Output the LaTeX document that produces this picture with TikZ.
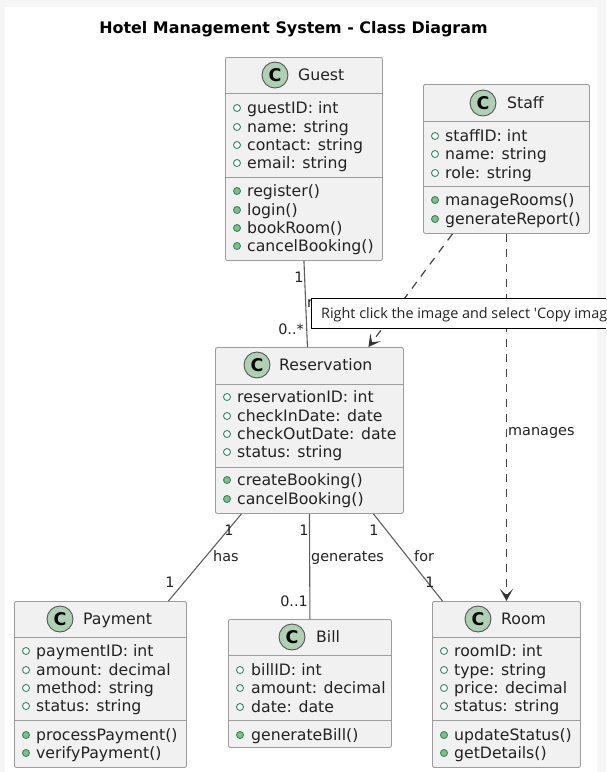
\documentclass[tikz,border=0pt]{standalone}
\usepackage{fontspec}
\setmainfont{DejaVu Sans}
\newfontfamily\tipfont{Open Sans}
\usetikzlibrary{calc}
\usetikzlibrary{arrows.meta}

\tikzset{
  classbox/.style={draw=boxline, fill=boxfill, rounded corners=2pt, line width=0.9pt, anchor=north west, inner sep=0pt},
  classicon/.style={circle, draw=iconline, fill=iconfill, line width=0.9pt, minimum size=26pt, inner sep=0pt, font=\fontsize{17.5}{17.5}\selectfont\bfseries, text=black},
  classname/.style={anchor=base west, inner sep=0pt, text=textdark, font=\fontsize{15.7}{18}\selectfont},
  member/.style={anchor=base west, inner sep=0pt, text=textdark, font=\fontsize{15.7}{18}\selectfont},
  attrdot/.style={circle, draw=dotline, fill=white, line width=0.9pt, minimum size=7pt, inner sep=0pt},
  methdot/.style={circle, draw=dotline, fill=dotfill, line width=0.9pt, minimum size=7pt, inner sep=0pt},
  sepline/.style={draw=boxline, line width=0.9pt},
  assoc/.style={draw=linegray, line width=1.1pt},
  depend/.style={draw=dashgray, line width=1.2pt, dash pattern=on 8pt off 7pt, -{Stealth[inset=6pt,length=12pt,width=13pt,color=tipgray]}},
  linklabel/.style={inner sep=0pt, text=textdark, font=\fontsize{14.4}{16}\selectfont}
}
\definecolor{boxfill}{HTML}{F1F1F1}
\definecolor{boxline}{HTML}{9C9C9C}
\definecolor{iconfill}{HTML}{ADD1B2}
\definecolor{iconline}{HTML}{555555}
\definecolor{dotline}{HTML}{2E8B62}
\definecolor{dotfill}{HTML}{84BE84}
\definecolor{linegray}{HTML}{5E5E5E}
\definecolor{dashgray}{HTML}{444444}
\definecolor{tipgray}{HTML}{333333}
\definecolor{textdark}{HTML}{222222}
\definecolor{pagegray}{HTML}{F6F6F6}

% one row per member: y/text
\newcommand{\attrs}[4]{%
  \foreach \yy/\tt [count=\i] in {#4} {
    \node[attrdot] (#1a\i) at (#2,\yy) {};
    \node[member] (#1at\i) at (#3,\yy+5) {\tt};
  }}
\newcommand{\meths}[4]{%
  \foreach \yy/\tt [count=\i] in {#4} {
    \node[methdot] (#1m\i) at (#2,\yy) {};
    \node[member] (#1mt\i) at (#3,\yy+5) {\tt};
  }}

\begin{document}
\begin{tikzpicture}[x=1pt, y=-1pt]
  \useasboundingbox (0,0) rectangle (606,772);
  \fill[pagegray] (0,0) rectangle (606,772);
  \fill[white] (5,7) rectangle (597,772);

  \node[anchor=base, inner sep=0pt, text=black, font=\fontsize{15.9}{18}\selectfont\bfseries] (title) at (293.5,33) {Hotel Management System - Class Diagram};

  % classes
  \node[classbox, minimum width=157pt, minimum height=203pt] (Guest) at (225,57) {};
  \node[classicon] (GuestC) at (275,75) {C};
  \node[classname] (GuestT) at (298,80) {Guest};
  \draw[sepline] (225,93) -- (382,93);
  \draw[sepline] (225,177) -- (382,177);
  \attrs{Guest}{237}{247}{108/guestID: int, 127/name: string, 145/contact: string, 163/email: string}
  \meths{Guest}{237}{247}{191/register(), 210/login(), 228/bookRoom(), 246/cancelBooking()}

  \node[classbox, minimum width=166pt, minimum height=149pt] (Staff) at (423,84) {};
  \node[classicon] (StaffC) at (483,103) {C};
  \node[classname] (StaffT) at (507,108) {Staff};
  \draw[sepline] (423,121) -- (589,121);
  \draw[sepline] (423,186) -- (589,186);
  \attrs{Staff}{435}{445}{136/staffID: int, 154/name: string, 173/role: string}
  \meths{Staff}{435}{445}{200/manageRooms(), 219/generateReport()}

  \node[classbox, minimum width=188pt, minimum height=166pt] (Reservation) at (215,347) {};
  \node[classicon] (ReservationC) at (257,365) {C};
  \node[classname] (ReservationT) at (279,370) {Reservation};
  \draw[sepline] (215,384) -- (403,384);
  \draw[sepline] (215,467) -- (403,467);
  \attrs{Reservation}{227}{237}{397/reservationID: int, 416/checkInDate: date, 434/checkOutDate: date, 452/status: string}
  \meths{Reservation}{227}{237}{480/createBooking(), 499/cancelBooking()}

  \node[classbox, minimum width=172pt, minimum height=166pt] (Payment) at (14,601) {};
  \node[classicon] (PaymentC) at (60,619) {C};
  \node[classname] (PaymentT) at (83,624) {Payment};
  \draw[sepline] (14,637) -- (186,637);
  \draw[sepline] (14,720) -- (186,720);
  \attrs{Payment}{26}{36}{651/paymentID: int, 670/amount: decimal, 688/method: string, 706/status: string}
  \meths{Payment}{26}{36}{735/processPayment(), 753/verifyPayment()}

  \node[classbox, minimum width=163pt, minimum height=128pt] (Bill) at (228,619) {};
  \node[classicon] (BillC) at (292,637) {C};
  \node[classname] (BillT) at (316,642) {Bill};
  \draw[sepline] (228,655) -- (391,655);
  \draw[sepline] (228,720) -- (391,720);
  \attrs{Bill}{240}{251}{670/billID: int, 688/amount: decimal, 707/date: date}
  \meths{Bill}{240}{251}{735/generateBill()}

  \node[classbox, minimum width=148pt, minimum height=166pt] (Room) at (432,601) {};
  \node[classicon] (RoomC) at (478,619) {C};
  \node[classname] (RoomT) at (501,624) {Room};
  \draw[sepline] (432,637) -- (580,637);
  \draw[sepline] (432,720) -- (580,720);
  \attrs{Room}{444}{454}{651/roomID: int, 670/type: string, 688/price: decimal, 706/status: string}
  \meths{Room}{444}{454}{735/updateStatus(), 753/getDetails()}

  % connectors
  \draw[assoc] (Guest.south) -- ([xshift=-2pt]Reservation.north);
  \draw[assoc] ([xshift=-68pt]Reservation.south) -- ([xshift=68pt]Payment.north);
  \draw[assoc] (Reservation.south) -- (Bill.north);
  \draw[assoc] ([xshift=64pt]Reservation.south) -- ([xshift=-64pt]Room.north);
  \draw[depend] ([xshift=-54pt]Staff.south) -- ([xshift=59pt]Reservation.north);
  \draw[depend] (Staff.south) -- (Room.north);

  % labels
  \node[linklabel] (g1) at (299,277) {1};
  \node[linklabel, anchor=east] (g2) at (304,329) {0..*};
  \node[linklabel, anchor=west] (gm) at (307,303) {m};
  \node[linklabel, anchor=base west] (mlabel) at (508,435) {manages};
  \node[linklabel] (p1) at (229,530) {1};
  \node[linklabel] (p2) at (170,582) {1};
  \node[linklabel, anchor=base west] (has) at (213,561) {has};
  \node[linklabel] (b1) at (304,530) {1};
  \node[linklabel, anchor=east] (b2) at (308,601) {0..1};
  \node[linklabel, anchor=base west] (gen) at (311,561) {generates};
  \node[linklabel] (r1) at (374,530) {1};
  \node[linklabel] (r2) at (430,582) {1};
  \node[linklabel, anchor=base west] (for) at (414,561) {for};

  % tooltip on top
  \fill[white] (311,298) rectangle (606,328);
  \draw[black, line width=1pt] (606,298) -- (311,298) -- (311,328) -- (606,328);
  \node[anchor=base west, inner sep=0pt, text=textdark, font=\tipfont\fontsize{14.4}{15}\selectfont] (tip) at (321,318) {Right click the image and select 'Copy imag};
\end{tikzpicture}
\end{document}
